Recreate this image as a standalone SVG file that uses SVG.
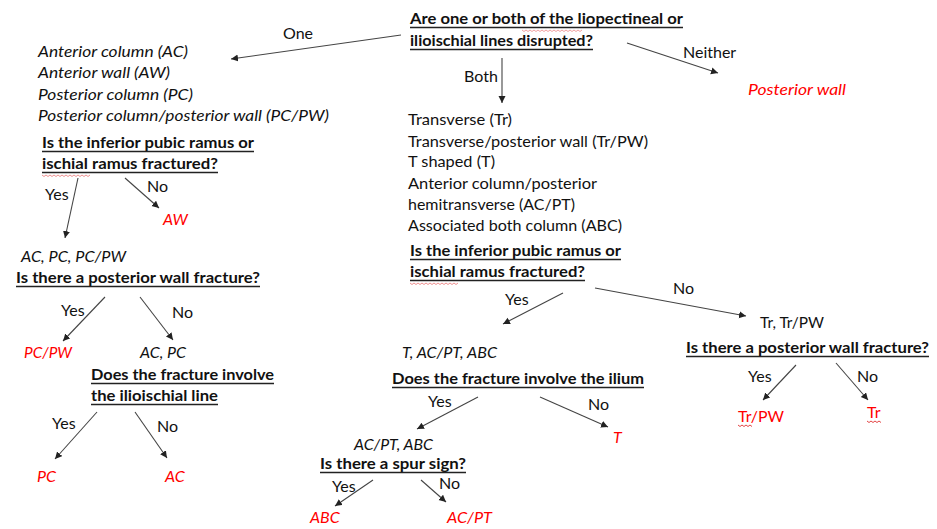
<svg xmlns="http://www.w3.org/2000/svg" width="937" height="529" viewBox="0 0 937 529">
<style>
text{font-family:Lato,"Open Sans","Liberation Sans",sans-serif;font-size:16px;fill:#111}
.b{font-weight:bold}
.i{font-style:italic}
.r{fill:#ff0000}
.ul{stroke:#222;stroke-width:1.4}
.sq{fill:none;stroke:#e03030;stroke-width:0.9}
.c line{stroke:#444;stroke-width:1.1;marker-end:url(#ah)}
</style>
<defs>
<marker id="ah" markerUnits="userSpaceOnUse" markerWidth="8" markerHeight="8" refX="7" refY="3.5" orient="auto">
<path d="M0,0 L7,3.5 L0,7 z" fill="#222"/>
</marker>
</defs>
<rect width="937" height="529" fill="#fff"/>

<g id="q-root">
<text class="b" x="410" y="24" textLength="273" lengthAdjust="spacingAndGlyphs">Are one or both of the liopectineal or</text>
<line class="ul" x1="410" y1="27.5" x2="683" y2="27.5"/>
<text class="b" x="410" y="46" textLength="183" lengthAdjust="spacingAndGlyphs">ilioischial lines disrupted?</text>
<line class="ul" x1="410" y1="49.5" x2="593" y2="49.5"/>
<path class="sq" d="M522,30 l2,1.5 2,-1.5 2,1.5 2,-1.5 2,1.5 2,-1.5 2,1.5 2,-1.5 2,1.5 2,-1.5 2,1.5 2,-1.5 2,1.5 2,-1.5 2,1.5 2,-1.5 2,1.5 2,-1.5 2,1.5 2,-1.5 2,1.5 2,-1.5 2,1.5 2,-1.5 2,1.5 2,-1.5 2,1.5 2,-1.5 2,1.5 2,-1.5" opacity="0.5"/>
</g>

<g id="posterior-wall">
<text class="i r" x="748" y="95" textLength="98" lengthAdjust="spacingAndGlyphs">Posterior wall</text>
</g>

<g id="one-list">
<text class="i" x="38" y="57" textLength="150" lengthAdjust="spacingAndGlyphs">Anterior column (AC)</text>
<text class="i" x="38" y="78" textLength="132" lengthAdjust="spacingAndGlyphs">Anterior wall (AW)</text>
<text class="i" x="38" y="100" textLength="155" lengthAdjust="spacingAndGlyphs">Posterior column (PC)</text>
<text class="i" x="38" y="121" textLength="291" lengthAdjust="spacingAndGlyphs">Posterior column/posterior wall (PC/PW)</text>
</g>

<g id="q-left-ramus">
<text class="b" x="42" y="148" textLength="212" lengthAdjust="spacingAndGlyphs">Is the inferior pubic ramus or</text>
<line class="ul" x1="42" y1="151.5" x2="254" y2="151.5"/>
<text class="b" x="42" y="169" textLength="176" lengthAdjust="spacingAndGlyphs">ischial ramus fractured?</text>
<line class="ul" x1="42" y1="172.5" x2="218" y2="172.5"/>
<path class="sq" d="M42,175 l2,1.5 2,-1.5 2,1.5 2,-1.5 2,1.5 2,-1.5 2,1.5 2,-1.5 2,1.5 2,-1.5 2,1.5 2,-1.5 2,1.5 2,-1.5 2,1.5 2,-1.5 2,1.5 2,-1.5 2,1.5 2,-1.5 2,1.5 2,-1.5 2,1.5 2,-1.5" opacity="0.6"/>
</g>

<g id="aw">
<text class="i r" x="163" y="225">AW</text>
</g>

<g id="q-left-pw">
<text class="i" x="21" y="262" textLength="105" lengthAdjust="spacingAndGlyphs">AC, PC, PC/PW</text>
<text class="b" x="16" y="283" textLength="244" lengthAdjust="spacingAndGlyphs">Is there a posterior wall fracture?</text>
<line class="ul" x1="16" y1="286.5" x2="260" y2="286.5"/>
</g>

<g id="pcpw">
<text class="i r" x="24" y="358" textLength="48" lengthAdjust="spacingAndGlyphs">PC/PW</text>
</g>

<g id="q-left-ilio">
<text class="i" x="140" y="358" textLength="46" lengthAdjust="spacingAndGlyphs">AC, PC</text>
<text class="b" x="91" y="380" textLength="183" lengthAdjust="spacingAndGlyphs">Does the fracture involve</text>
<line class="ul" x1="91" y1="383.5" x2="274" y2="383.5"/>
<text class="b" x="91" y="401" textLength="127" lengthAdjust="spacingAndGlyphs">the ilioischial line</text>
<line class="ul" x1="91" y1="404.5" x2="218" y2="404.5"/>
</g>

<g id="pc"><text class="i r" x="37" y="482">PC</text></g>
<g id="ac"><text class="i r" x="165" y="482">AC</text></g>

<g id="both-list">
<text x="408" y="125" textLength="104" lengthAdjust="spacingAndGlyphs">Transverse (Tr)</text>
<text x="408" y="147" textLength="240" lengthAdjust="spacingAndGlyphs">Transverse/posterior wall (Tr/PW)</text>
<text x="408" y="167" textLength="87" lengthAdjust="spacingAndGlyphs">T shaped (T)</text>
<text x="408" y="189" textLength="189" lengthAdjust="spacingAndGlyphs">Anterior column/posterior</text>
<text x="408" y="210" textLength="167" lengthAdjust="spacingAndGlyphs">hemitransverse (AC/PT)</text>
<text x="408" y="231" textLength="214" lengthAdjust="spacingAndGlyphs">Associated both column (ABC)</text>
</g>

<g id="q-mid-ramus">
<text class="b" x="410" y="256" textLength="211" lengthAdjust="spacingAndGlyphs">Is the inferior pubic ramus or</text>
<line class="ul" x1="410" y1="259.5" x2="621" y2="259.5"/>
<text class="b" x="410" y="277" textLength="175" lengthAdjust="spacingAndGlyphs">ischial ramus fractured?</text>
<line class="ul" x1="410" y1="280.5" x2="585" y2="280.5"/>
<path class="sq" d="M410,283 l2,1.5 2,-1.5 2,1.5 2,-1.5 2,1.5 2,-1.5 2,1.5 2,-1.5 2,1.5 2,-1.5 2,1.5 2,-1.5 2,1.5 2,-1.5 2,1.5 2,-1.5 2,1.5 2,-1.5 2,1.5 2,-1.5 2,1.5 2,-1.5 2,1.5 2,-1.5" opacity="0.6"/>
</g>

<g id="q-mid-ilium">
<text class="i" x="402" y="358" textLength="95" lengthAdjust="spacingAndGlyphs">T, AC/PT, ABC</text>
<text class="b" x="392" y="384" textLength="252" lengthAdjust="spacingAndGlyphs">Does the fracture involve the ilium</text>
<line class="ul" x1="392" y1="387.5" x2="644" y2="387.5"/>
</g>

<g id="t"><text class="i r" x="613" y="443">T</text></g>

<g id="q-spur">
<text class="i" x="354" y="450" textLength="79" lengthAdjust="spacingAndGlyphs">AC/PT, ABC</text>
<text class="b" x="320" y="469" textLength="146" lengthAdjust="spacingAndGlyphs">Is there a spur sign?</text>
<line class="ul" x1="320" y1="472.5" x2="466" y2="472.5"/>
</g>

<g id="abc"><text class="i r" x="310" y="523">ABC</text></g>
<g id="acpt"><text class="i r" x="447" y="523" textLength="45" lengthAdjust="spacingAndGlyphs">AC/PT</text></g>

<g id="q-right-pw">
<text x="760" y="328" textLength="64" lengthAdjust="spacingAndGlyphs">Tr, Tr/PW</text>
<text class="b" x="686" y="353" textLength="243" lengthAdjust="spacingAndGlyphs">Is there a posterior wall fracture?</text>
<line class="ul" x1="686" y1="356.5" x2="929" y2="356.5"/>
</g>

<g id="trpw">
<text class="r" x="738" y="422" textLength="46" lengthAdjust="spacingAndGlyphs">Tr/PW</text>
<path class="sq" d="M738,425 l2,1.5 2,-1.5 2,1.5 2,-1.5 2,1.5 2,-1.5 2,1.5"/>
</g>
<g id="tr">
<text class="r" x="867" y="418">Tr</text>
<path class="sq" d="M867,421 l2,1.5 2,-1.5 2,1.5 2,-1.5 2,1.5 2,-1.5 2,1.5"/>
</g>

<g id="connectors" class="c">
<line x1="401" y1="35" x2="231" y2="59"/>
<line x1="627" y1="43" x2="718" y2="73"/>
<line x1="502" y1="58" x2="502" y2="103"/>
<line x1="78" y1="178" x2="65" y2="238"/>
<line x1="125" y1="178" x2="159" y2="208"/>
<line x1="105" y1="297" x2="63" y2="341"/>
<line x1="140" y1="297" x2="173" y2="340"/>
<line x1="97" y1="412" x2="55" y2="459"/>
<line x1="135" y1="412" x2="167" y2="458"/>
<line x1="563" y1="293" x2="503" y2="324"/>
<line x1="595" y1="288" x2="746" y2="316"/>
<line x1="478" y1="397" x2="417" y2="429"/>
<line x1="540" y1="397" x2="608" y2="427"/>
<line x1="373" y1="480" x2="335" y2="506"/>
<line x1="421" y1="480" x2="446" y2="502"/>
<line x1="796" y1="365" x2="763" y2="400"/>
<line x1="836" y1="363" x2="868" y2="400"/>
</g>

<g id="labels">
<text x="283" y="39">One</text>
<text x="683" y="58">Neither</text>
<text x="464" y="82">Both</text>
<text x="45" y="200">Yes</text>
<text x="147" y="192">No</text>
<text x="61" y="316">Yes</text>
<text x="172" y="318">No</text>
<text x="52" y="429">Yes</text>
<text x="157" y="432">No</text>
<text x="505" y="305">Yes</text>
<text x="673" y="294">No</text>
<text x="428" y="407">Yes</text>
<text x="588" y="410">No</text>
<text x="332" y="492">Yes</text>
<text x="439" y="489">No</text>
<text x="748" y="382">Yes</text>
<text x="857" y="382">No</text>
</g>
</svg>
